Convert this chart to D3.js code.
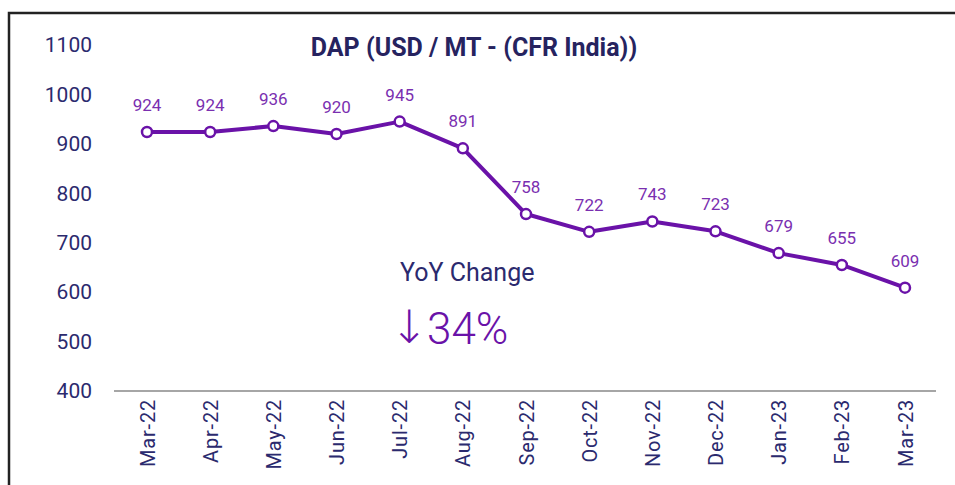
<!DOCTYPE html>
<html>
<head>
<meta charset="utf-8">
<script src="https://cdn.jsdelivr.net/npm/d3@7"></script>
<style>
  body { margin: 0; background: #fff; }
  svg { display: block; font-family: Roboto, "Noto Sans", sans-serif; }
</style>
</head>
<body>
<div id="chart"></div>
<script>
// Data
const months = ["Mar-22", "Apr-22", "May-22", "Jun-22", "Jul-22", "Aug-22", "Sep-22",
                "Oct-22", "Nov-22", "Dec-22", "Jan-23", "Feb-23", "Mar-23"];
const prices = [924, 924, 936, 920, 945, 891, 758, 722, 743, 723, 679, 655, 609];
const yTicks = [400, 500, 600, 700, 800, 900, 1000, 1100];
const title = "DAP (USD / MT - (CFR India))";
const yoyLabel = "YoY Change";
const yoyValue = "34%";

const width = 955, height = 485;
const navy = "#2b2a6e";
const purple = "#6a12a8";
const labelPurple = "#7a2fb0";

const svg = d3.select("#chart").append("svg")
    .attr("width", width)
    .attr("height", height);

// frame (runs past the right and bottom edge)
svg.append("rect")
    .attr("x", 9).attr("y", 13)
    .attr("width", 1000).attr("height", 600)
    .attr("fill", "none")
    .attr("stroke", "#222")
    .attr("stroke-width", 2.5);

// scales
const x = d3.scalePoint()
    .domain(months)
    .range([147, 905]);

const y = d3.scaleLinear()
    .domain([400, 1100])
    .range([391, 45]);

// y axis labels only
const yAxis = svg.append("g")
    .attr("transform", "translate(92,0)")
    .call(d3.axisLeft(y).tickValues(yTicks).tickFormat(d3.format("d")).tickSize(0).tickPadding(0));
yAxis.select(".domain").remove();
yAxis.selectAll("text")
    .attr("fill", navy)
    .style("font-size", "21px")
    .style("font-family", "Roboto, sans-serif");

// baseline
svg.append("line")
    .attr("x1", 114).attr("x2", 936)
    .attr("y1", y(400)).attr("y2", y(400))
    .attr("stroke", "#a6a6a6")
    .attr("stroke-width", 2);

// x axis labels, rotated
const xAxis = svg.append("g")
    .attr("transform", `translate(0,${y(400)})`)
    .call(d3.axisBottom(x).tickSize(0).tickPadding(8));
xAxis.select(".domain").remove();
xAxis.selectAll("text")
    .attr("fill", navy)
    .style("font-size", "20px")
    .style("font-family", "Roboto, sans-serif")
    .style("letter-spacing", "0.8px")
    .attr("transform", "rotate(-90)")
    .attr("text-anchor", "end")
    .attr("x", -8)
    .attr("y", 0)
    .attr("dy", "0.35em");

// title
svg.append("text")
    .attr("x", 474).attr("y", 56)
    .attr("text-anchor", "middle")
    .attr("fill", "#26235f")
    .style("font-size", "25px")
    .style("font-weight", "bold")
    .text(title);

// line
const line = d3.line()
    .x((d, i) => x(months[i]))
    .y(d => y(d));

svg.append("path")
    .datum(prices)
    .attr("d", line)
    .attr("fill", "none")
    .attr("stroke", purple)
    .attr("stroke-width", 4)
    .attr("stroke-linejoin", "round");

// markers
svg.selectAll(".dot")
    .data(prices)
    .enter().append("circle")
    .attr("class", "dot")
    .attr("cx", (d, i) => x(months[i]))
    .attr("cy", d => y(d))
    .attr("r", 5)
    .attr("fill", "#fff")
    .attr("stroke", purple)
    .attr("stroke-width", 2.5);

// data labels
svg.selectAll(".val")
    .data(prices)
    .enter().append("text")
    .attr("class", "val")
    .attr("x", (d, i) => x(months[i]))
    .attr("y", d => y(d) - 21)
    .attr("text-anchor", "middle")
    .attr("fill", labelPurple)
    .style("font-size", "17px")
    .text(d => d);

// YoY annotation
svg.append("text")
    .attr("x", 400).attr("y", 281)
    .attr("fill", navy)
    .style("font-size", "25px")
    .text(yoyLabel);

svg.append("text")
    .attr("x", 390).attr("y", 343)
    .attr("fill", purple)
    .style("font-size", "46px")
    .style("font-family", "DejaVu Sans, sans-serif")
    .style("font-weight", "200")
    .text("\u2193");

svg.append("text")
    .attr("x", 427).attr("y", 344)
    .attr("fill", purple)
    .style("font-size", "44px")
    .style("font-weight", "300")
    .text(yoyValue);
</script>
</body>
</html>
